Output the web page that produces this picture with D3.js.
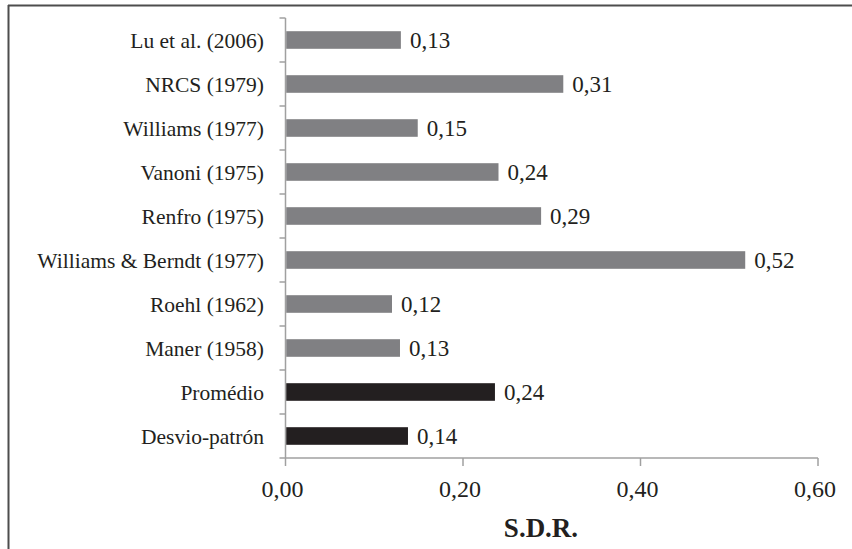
<!DOCTYPE html>
<html>
<head>
<meta charset="utf-8">
<script src="https://cdn.jsdelivr.net/npm/d3@7"></script>
<style>
  html, body { margin: 0; padding: 0; background: #fff; }
  svg { display: block; }
</style>
</head>
<body>
<svg id="chart" width="852" height="549" font-family="'Liberation Serif', Tinos, 'Times New Roman', Times, 'Nimbus Roman', 'Nimbus Roman No9 L', FreeSerif, 'DejaVu Serif', 'Noto Serif', 'Noto Serif CJK SC', 'Noto Serif CJK JP', serif"></svg>
<script>
const categories = ["Lu et al. (2006)", "NRCS (1979)", "Williams (1977)", "Vanoni (1975)", "Renfro (1975)",
  "Williams & Berndt (1977)", "Roehl (1962)", "Maner (1958)", "Promédio", "Desvio-patrón"];
const values = [0.130, 0.313, 0.149, 0.240, 0.288, 0.518, 0.120, 0.129, 0.236, 0.138];
const groups = ["m", "m", "m", "m", "m", "m", "m", "m", "s", "s"];
const xTicks = [0, 0.2, 0.4, 0.6];
const xTitle = "S.D.R.";

const svg = d3.select("#chart");
const textColor = "#231f20";
const plotLeft = 285.5, plotRight = 818, plotTop = 18, plotBottom = 458;

// frame (cropped: only top & left visible)
svg.append("line").attr("x1", 8).attr("x2", 852).attr("y1", 5.5).attr("y2", 5.5)
  .attr("stroke", "#4d4d4d").attr("stroke-width", 2);
svg.append("line").attr("x1", 8.5).attr("x2", 8.5).attr("y1", 5).attr("y2", 549)
  .attr("stroke", "#4d4d4d").attr("stroke-width", 2);

const x = d3.scaleLinear().domain([0, 0.6]).range([plotLeft, plotRight]);
const y = d3.scaleBand().domain(categories).range([plotTop, plotBottom]).paddingInner(0.6).paddingOuter(0.3);
const color = d3.scaleOrdinal().domain(["m", "s"]).range(["#808083", "#231f20"]);
const fmt = v => d3.format(".2f")(v).replace(".", ",");
const axisColor = "#a0a0a0";

// y axis line + ticks at band boundaries
svg.append("line").attr("x1", plotLeft).attr("x2", plotLeft).attr("y1", plotTop).attr("y2", plotBottom)
  .attr("stroke", axisColor).attr("stroke-width", 1.5);
const boundaries = categories.map(c => y(c) - y.step() * y.paddingInner() / 2).concat([plotBottom]);
svg.selectAll(".ytick").data(boundaries).join("line")
  .attr("x1", plotLeft - 6).attr("x2", plotLeft).attr("y1", d => d).attr("y2", d => d)
  .attr("stroke", axisColor).attr("stroke-width", 1.5);

// x axis
svg.append("line").attr("x1", plotLeft).attr("x2", plotRight).attr("y1", plotBottom).attr("y2", plotBottom)
  .attr("stroke", axisColor).attr("stroke-width", 1.5);
svg.selectAll(".xtick").data(xTicks).join("line")
  .attr("x1", d => x(d)).attr("x2", d => x(d)).attr("y1", plotBottom).attr("y2", plotBottom + 8)
  .attr("stroke", axisColor).attr("stroke-width", 1.5);
svg.selectAll(".xlab").data(xTicks).join("text")
  .attr("x", d => x(d) - 3).attr("y", 497).attr("text-anchor", "middle")
  .attr("fill", textColor).attr("font-size", 24).text(d => fmt(d));

// category labels
svg.selectAll(".ylab").data(categories).join("text")
  .attr("x", 264).attr("y", d => y(d) + y.bandwidth() / 2).attr("dy", "0.35em")
  .attr("text-anchor", "end").attr("fill", textColor).attr("font-size", 21.5).text(d => d);

// bars
svg.selectAll(".bar").data(categories).join("rect")
  .attr("x", plotLeft + 0.75).attr("y", d => y(d))
  .attr("width", (d, i) => x(values[i]) - plotLeft - 0.75).attr("height", y.bandwidth())
  .attr("fill", (d, i) => color(groups[i]));

// value labels
svg.selectAll(".vlab").data(categories).join("text")
  .attr("x", (d, i) => x(values[i]) + 9).attr("y", d => y(d) + y.bandwidth() / 2).attr("dy", "0.35em")
  .attr("fill", textColor).attr("font-size", 23).text((d, i) => fmt(values[i]));

// x title
svg.append("text").attr("x", 541).attr("y", 536.5).attr("text-anchor", "middle")
  .attr("fill", textColor).attr("font-size", 27).attr("font-weight", "bold").text(xTitle);
</script>
</body>
</html>
